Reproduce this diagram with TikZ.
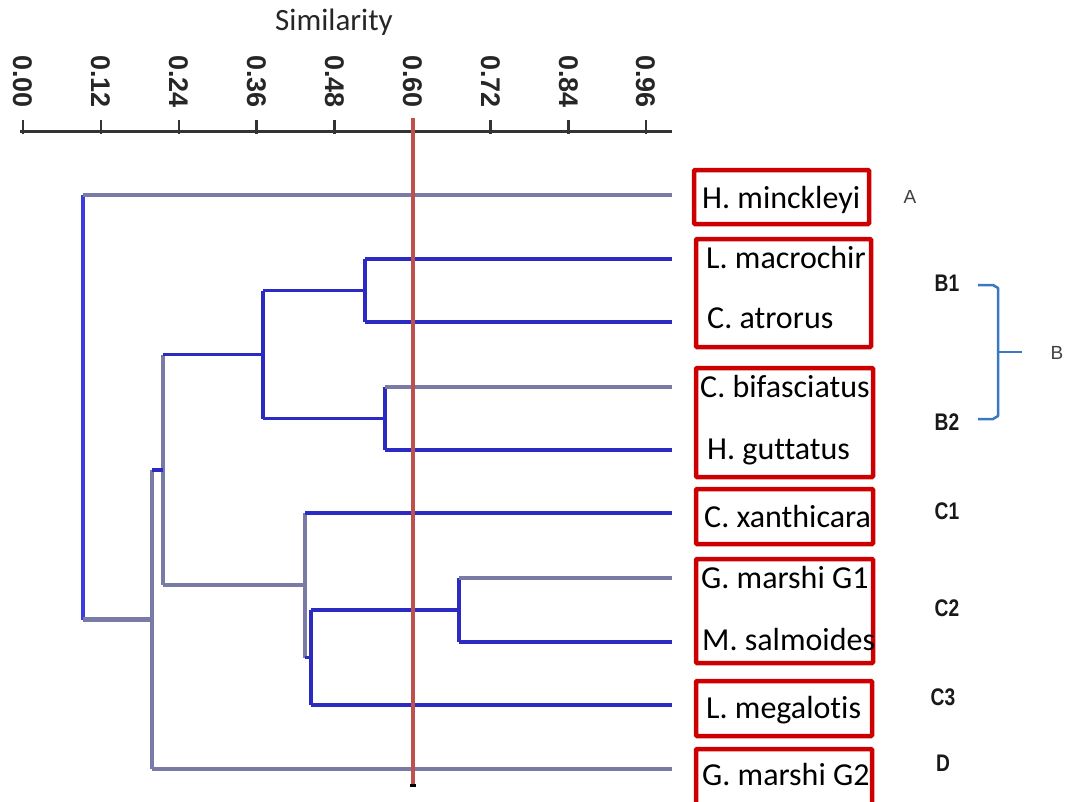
\documentclass[tikz,border=0pt]{standalone}
\usepackage{fontspec}
\setmainfont{Carlito}[Ligatures=NoCommon]
\newfontfamily\arialf{Liberation Sans}
\definecolor{blueline}{HTML}{2B2BC4}
\definecolor{rootblue}{HTML}{3B3BE0}
\definecolor{grayline}{HTML}{7A7AA6}
\definecolor{redline}{HTML}{C0504D}
\definecolor{boxred}{HTML}{CC0000}
\definecolor{brk}{HTML}{3A78C6}
\definecolor{axisgray}{HTML}{333333}
\begin{document}
\begin{tikzpicture}[x=1pt,y=-1pt,
  bl/.style={draw=blueline,line width=3.2pt},
  gr/.style={draw=grayline,line width=4.8pt},
  leafbox/.style={draw=boxred,line width=4.5pt,rounded corners=1pt},
  leaf/.style={anchor=base west,inner sep=0pt,font=\fontsize{32}{38}\selectfont,text=black},
  ticklab/.style={rotate=-90,anchor=west,inner sep=0pt,font=\arialf\bfseries\fontsize{27}{30}\selectfont,text=black!85},
  grp/.style={inner sep=0pt,font=\arialf\bfseries\fontsize{24}{26}\selectfont,text=black!90},
  grpr/.style={inner sep=0pt,font=\arialf\fontsize{19}{21}\selectfont,text=black!75}]
\useasboundingbox (0,0) rectangle (1075,801);

% title and axis
\node[inner sep=0pt,font=\fontsize{31}{34}\selectfont,text=black!85] (title) at (334,22) {Similarity};
\coordinate (axL) at (20,131);
\coordinate (axR) at (672,131);
\draw[axisgray,line width=3pt] (axL) -- (axR);
\foreach \i/\lab in {0/0.00,1/0.12,2/0.24,3/0.36,4/0.48,5/0.60,6/0.72,7/0.84,8/0.96}{
  \draw[axisgray,line width=2.5pt] ({23+77.9*\i},120) -- ({23+77.9*\i},134);
  \node[ticklab] (t\i) at ({23+77.9*\i},55) {\lab};
}

% leaves (line ends)
\coordinate (l1) at (672,195);
\coordinate (l2) at (672,259);
\coordinate (l3) at (672,322);
\coordinate (l4) at (672,387);
\coordinate (l5) at (672,450);
\coordinate (l6) at (672,513);
\coordinate (l7) at (672,578);
\coordinate (l8) at (672,642);
\coordinate (l9) at (672,705);
\coordinate (l10) at (672,769);
% internal nodes
\coordinate (nB1) at (365,290.5);
\coordinate (nB2) at (385,418.5);
\coordinate (nB) at (263,354.5);
\coordinate (nC2) at (459,610);
\coordinate (nC23) at (311,657.5);
\coordinate (nC) at (305,585);
\coordinate (nBC) at (163,470);
\coordinate (nBCD) at (152,619.5);
\coordinate (root) at (83,407);

% verticals
\draw[bl,draw=rootblue] (root |- l1) -- (root |- nBCD);
\draw[bl] (nB1 |- l2) -- (nB1 |- l3);
\draw[bl] (nB2 |- l4) -- (nB2 |- l5);
\draw[bl] (nB |- nB1) -- (nB |- nB2);
\draw[gr] (nBC |- nB) -- (nBC |- nC);
\draw[gr] (nC |- l6) -- (nC |- nC23);
\draw[bl] (nC2 |- l7) -- (nC2 |- l8);
\draw[bl] (nC23 |- nC2) -- (nC23 |- l9);
\draw[gr] (nBCD |- nBC) -- (nBCD |- l10);

% horizontals
\draw[gr] (l1) -- (root |- l1);
\draw[bl] (l2) -- (nB1 |- l2);
\draw[bl] (l3) -- (nB1 |- l3);
\draw[gr] (l4) -- (nB2 |- l4);
\draw[bl] (l5) -- (nB2 |- l5);
\draw[bl] (nB1) -- (nB |- nB1);
\draw[bl] (nB2) -- (nB |- nB2);
\draw[bl] (nB) -- (nBC |- nB);
\draw[bl] (l6) -- (nC |- l6);
\draw[gr] (l7) -- (nC2 |- l7);
\draw[bl] (l8) -- (nC2 |- l8);
\draw[bl] (nC2) -- (nC23 |- nC2);
\draw[bl] (l9) -- (nC23 |- l9);
\draw[bl] (nC23) -- (nC |- nC23);
\draw[gr] (nC) -- (nBC |- nC);
\draw[bl] (nBC) -- (nBCD |- nBC);
\draw[gr] (l10) -- (nBCD |- l10);
\draw[gr] (nBCD) -- (root |- nBCD);

% cut line at 0.60
\coordinate (cutT) at (413,118);
\coordinate (cutB) at (413,785);
\draw[redline,line width=4pt] (cutT) -- (cutB);
\fill[black] (410,784) rectangle (416,787);

% boxes
\draw[leafbox] (694,170) rectangle (869,224);
\draw[leafbox] (696,239) rectangle (871,347);
\draw[leafbox] (696,368) rectangle (873,477);
\draw[leafbox] (696,489) rectangle (873,544);
\draw[leafbox] (696,559) rectangle (873,663);
\draw[leafbox] (696,681) rectangle (872,736);
\draw[leafbox] (696,749) rectangle (872,812);

% leaf labels
\node[leaf] (s1) at (702,208) {H. minckleyi};
\node[leaf] (s2) at (706,268) {L. macrochir};
\node[leaf] (s3) at (707,328) {C. atrorus};
\node[leaf] (s4) at (700,397) {C. bifasciatus};
\node[leaf] (s5) at (707,459) {H. guttatus};
\node[leaf] (s6) at (704,527) {C. xanthicara};
\node[leaf] (s7) at (701,588) {G. marshi G1};
\node[leaf] (s8) at (702,650) {M. salmoides};
\node[leaf] (s9) at (706,718) {L. megalotis};
\node[leaf] (s10) at (702,785) {G. marshi G2};

% group labels
\node[grpr] (gA) at (910,197) {A};
\node[grp] (gB1) at (947,283) {\scalebox{0.8}[1]{B1}};
\node[grp] (gB2) at (947,422) {\scalebox{0.8}[1]{B2}};
\node[grp] (gC1) at (947,511) {\scalebox{0.8}[1]{C1}};
\node[grp] (gC2) at (947,608) {\scalebox{0.8}[1]{C2}};
\node[grp] (gC3) at (943,697) {\scalebox{0.8}[1]{C3}};
\node[grp] (gD) at (943,763) {\scalebox{0.8}[1]{D}};
\node[grpr] (gB) at (1057,353) {B};

% bracket
\coordinate (bt) at (978,285);
\coordinate (bb) at (978,419);
\coordinate (bm) at (1022,352);
\draw[brk,line width=2.5pt,line join=round] (bt) -- (993,285) -- (998,288) -- (998,416) -- (993,419) -- (bb);
\draw[brk,line width=2.5pt] (998,352) -- (bm);
\end{tikzpicture}
\end{document}
